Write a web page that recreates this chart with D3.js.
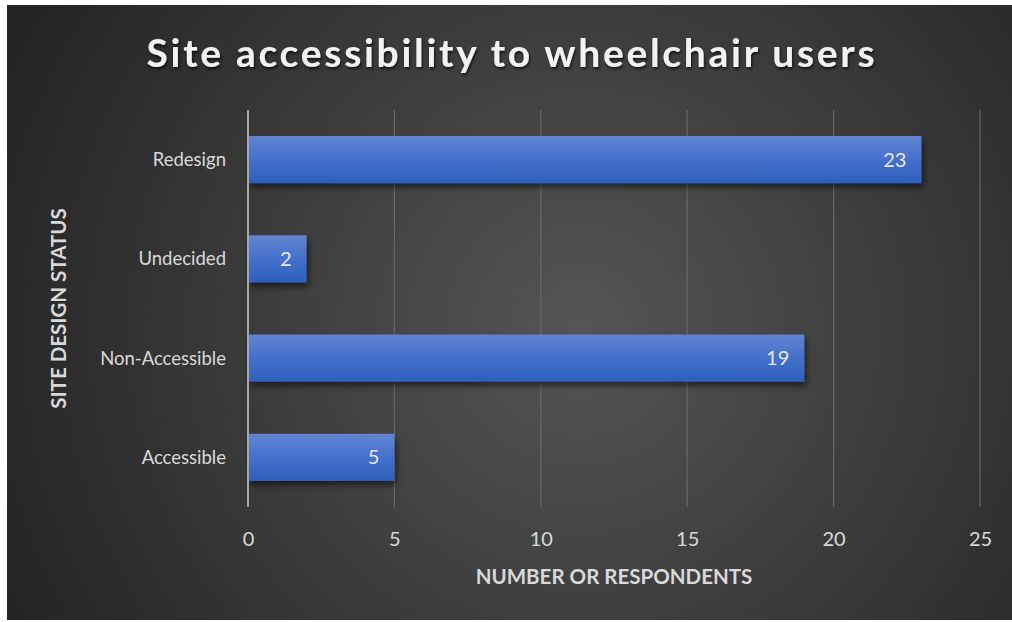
<!DOCTYPE html>
<html>
<head>
<meta charset="utf-8">
<script src="https://cdn.jsdelivr.net/npm/d3@7"></script>
<style>
  html, body { margin: 0; padding: 0; background: #ffffff; }
  svg { display: block; }
</style>
</head>
<body>
<svg id="chart" width="1012" height="622"></svg>
<script>
// Survey responses: site accessibility to wheelchair users
const categories = ["Redesign", "Undecided", "Non-Accessible", "Accessible"];
const respondents = [23, 2, 19, 5];
const xTicks = [0, 5, 10, 15, 20, 25];
const chartTitle = "Site accessibility to wheelchair users";
const xTitle = "NUMBER OR RESPONDENTS";
const yTitle = "SITE DESIGN STATUS";

const svg = d3.select("#chart");
const font = "Lato, 'Open Sans', sans-serif";

const defs = svg.append("defs");

// Dark radial backdrop
const bg = defs.append("radialGradient").attr("id", "bgGrad")
  .attr("gradientUnits", "userSpaceOnUse")
  .attr("cx", 580).attr("cy", 330).attr("r", 640);
bg.append("stop").attr("offset", "0%").attr("stop-color", "#555555");
bg.append("stop").attr("offset", "100%").attr("stop-color", "#232323");

// Bar fill: lighter at the top, deeper blue at the bottom
const barGrad = defs.append("linearGradient").attr("id", "barGrad")
  .attr("x1", 0).attr("y1", 0).attr("x2", 0).attr("y2", 1);
barGrad.append("stop").attr("offset", "0%").attr("stop-color", "#6384d2");
barGrad.append("stop").attr("offset", "50%").attr("stop-color", "#4470cc");
barGrad.append("stop").attr("offset", "100%").attr("stop-color", "#2f5fbc");

const shadow = defs.append("filter").attr("id", "barShadow")
  .attr("x", "-10%").attr("y", "-30%").attr("width", "130%").attr("height", "180%");
shadow.append("feDropShadow").attr("dx", 2).attr("dy", 4).attr("stdDeviation", 3)
  .attr("flood-color", "#000").attr("flood-opacity", 0.55);

const titleShadow = defs.append("filter").attr("id", "textShadow")
  .attr("x", "-5%").attr("y", "-20%").attr("width", "110%").attr("height", "150%");
titleShadow.append("feDropShadow").attr("dx", 1).attr("dy", 2).attr("stdDeviation", 1.5)
  .attr("flood-color", "#000").attr("flood-opacity", 0.7);

svg.append("rect")
  .attr("x", 7).attr("y", 5).attr("width", 1005).attr("height", 615)
  .attr("fill", "url(#bgGrad)");

const plot = { left: 248, right: 980, top: 110, bottom: 507 };

const x = d3.scaleLinear().domain([0, 25]).range([plot.left, plot.right]);
const y = d3.scaleBand().domain(categories).range([plot.top, plot.bottom])
  .paddingInner(0.525).paddingOuter(0.2625);

// Vertical gridlines
svg.append("g").selectAll("line")
  .data(xTicks.filter(d => d !== 0))
  .join("line")
  .attr("x1", d => x(d)).attr("x2", d => x(d))
  .attr("y1", plot.top).attr("y2", plot.bottom)
  .attr("stroke", "#686868").attr("stroke-width", 1.2);

// Bars
svg.append("g").selectAll("rect")
  .data(categories.map((c, i) => ({ c, v: respondents[i] })))
  .join("rect")
  .attr("x", x(0))
  .attr("y", d => y(d.c))
  .attr("width", d => x(d.v) - x(0))
  .attr("height", y.bandwidth())
  .attr("fill", "url(#barGrad)")
  .attr("filter", "url(#barShadow)");

// Category axis line at zero
svg.append("line")
  .attr("x1", x(0)).attr("x2", x(0))
  .attr("y1", plot.top).attr("y2", plot.bottom)
  .attr("stroke", "#a6a6a6").attr("stroke-width", 2);

// Value labels inside bar ends
svg.append("g").selectAll("text")
  .data(categories.map((c, i) => ({ c, v: respondents[i] })))
  .join("text")
  .attr("x", d => x(d.v) - 15)
  .attr("y", d => y(d.c) + y.bandwidth() / 2)
  .attr("dy", "0.35em")
  .attr("text-anchor", "end")
  .attr("font-family", font).attr("font-size", 20)
  .attr("fill", "#e8e8e8")
  .text(d => d.v);

// Category labels
svg.append("g").selectAll("text")
  .data(categories)
  .join("text")
  .attr("x", plot.left - 22)
  .attr("y", d => y(d) + y.bandwidth() / 2)
  .attr("dy", "0.35em")
  .attr("text-anchor", "end")
  .attr("font-family", font).attr("font-size", 18.5)
  .attr("fill", "#d9d9d9")
  .text(d => d);

// X tick labels
const xAxis = d3.axisBottom(x).tickValues(xTicks).tickSize(0).tickPadding(0);
const gx = svg.append("g").attr("transform", `translate(0, ${plot.bottom + 32})`).call(xAxis);
gx.select(".domain").remove();
gx.selectAll("text")
  .attr("font-family", font).attr("font-size", 20)
  .attr("fill", "#d9d9d9")
  .attr("dy", "0.35em");

// Titles
svg.append("text")
  .attr("x", 512).attr("y", 67)
  .attr("text-anchor", "middle")
  .attr("font-family", font).attr("font-weight", 700).attr("font-size", 39)
  .attr("letter-spacing", 2.7)
  .attr("fill", "#f2f2f2")
  .attr("filter", "url(#textShadow)")
  .text(chartTitle);

svg.append("text")
  .attr("x", (plot.left + plot.right) / 2).attr("y", 584)
  .attr("text-anchor", "middle")
  .attr("font-family", font).attr("font-weight", 700).attr("font-size", 20.5)
  .attr("fill", "#d9d9d9")
  .text(xTitle);

svg.append("text")
  .attr("transform", `translate(66, ${(plot.top + plot.bottom) / 2}) rotate(-90)`)
  .attr("text-anchor", "middle")
  .attr("font-family", font).attr("font-weight", 700).attr("font-size", 20.5)
  .attr("fill", "#d9d9d9")
  .text(yTitle);
</script>
</body>
</html>
